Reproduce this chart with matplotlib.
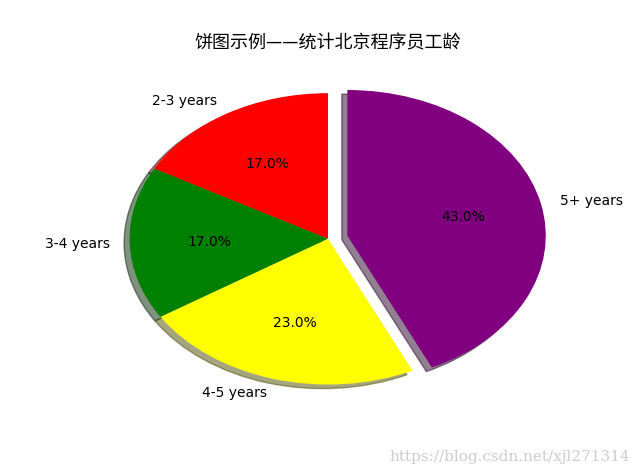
import matplotlib
matplotlib.use("Agg")
import matplotlib.pyplot as plt

plt.rcParams['font.sans-serif'] = ['DejaVu Sans', 'Noto Sans CJK SC']
plt.rcParams['axes.unicode_minus'] = False

labels = ['2-3 years', '3-4 years', '4-5 years', '5+ years']
sizes = [17, 17, 23, 43]
colors = ['red', 'green', 'yellow', 'purple']
explode = [0, 0, 0, 0.1]

fig = plt.figure(figsize=(6.4, 4.73), dpi=100)
ax = fig.add_subplot(111)
ax.pie(sizes, explode=explode, labels=labels, colors=colors,
       autopct='%1.1f%%', shadow=True, startangle=90)
ax.set_aspect('auto')
ax.set_title('饼图示例——统计北京程序员工龄', family='Noto Sans CJK SC', fontsize=13)
fig.text(0.985, 0.02, 'https://blog.csdn.net/xjl271314', ha='right', va='bottom',
         color='#cccccc', fontsize=11, family='DejaVu Serif')
fig.savefig('out.png')
